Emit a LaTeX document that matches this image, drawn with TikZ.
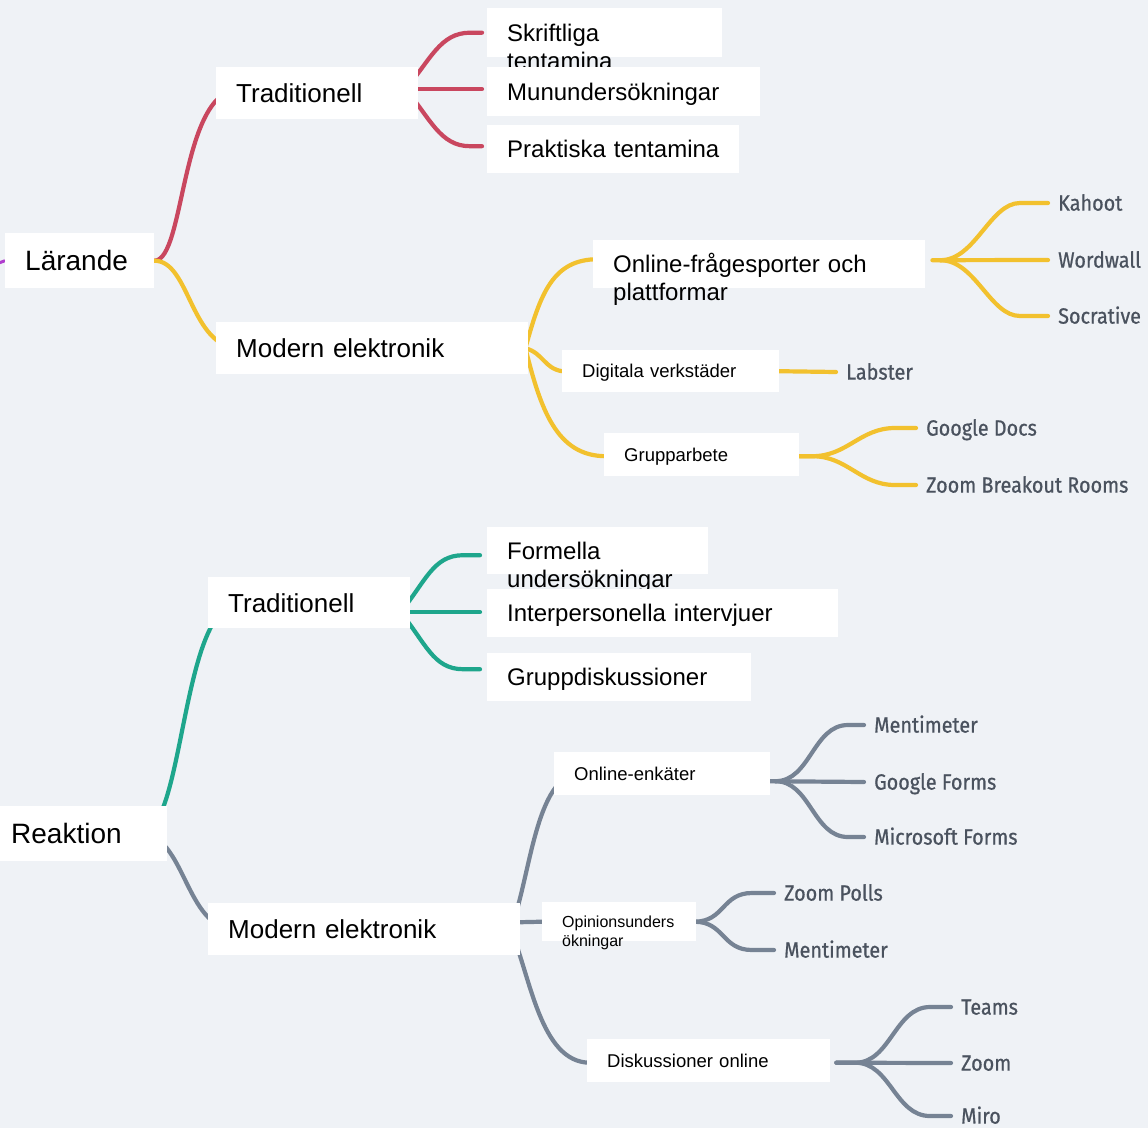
\documentclass[tikz,border=0pt]{standalone}
\usepackage{fontspec}
\setmainfont{Liberation Sans}
\newfontfamily\leaffont[FakeStretch=0.9,FakeBold=0.7]{Fira Sans}
\usetikzlibrary{calc}
\definecolor{bgc}{RGB}{239,242,246}
\definecolor{cred}{RGB}{201,71,95}
\definecolor{cyel}{RGB}{242,193,46}
\definecolor{cteal}{RGB}{30,166,140}
\definecolor{cgray}{RGB}{118,131,148}
\definecolor{cpurp}{RGB}{176,62,206}
\definecolor{leaftext}{RGB}{74,82,94}
\pgfdeclarelayer{back}
\pgfsetlayers{back,main}
\begin{document}
\begin{tikzpicture}[x=1pt,y=-1pt,
  box/.style={fill=white, anchor=north west, inner ysep=0pt, inner xsep=20pt, align=left, text depth=0pt},
  fR/.style={font={\fontsize{28}{32}\selectfont}, text height=20pt},
  fA/.style={font={\fontsize{26}{30}\selectfont}, text height=18.6pt},
  fB/.style={font={\fontsize{24}{28}\selectfont}, text height=17.2pt},
  fC/.style={font={\fontsize{18.5}{22}\selectfont}, text height=13.2pt},
  fD/.style={font={\fontsize{16}{19}\selectfont}, text height=11.5pt},
  leaf/.style={anchor=west, inner xsep=10pt, inner ysep=0pt, text height=15.2pt, text depth=0pt, font={\leaffont\fontsize{22}{26}\selectfont}, text=leaftext},
  br/.style={line width=4.2pt, line cap=round},
  ]
\useasboundingbox (0,0) rectangle (1148,1128);

% ---------- boxes ----------
\node[box,fR,text width=109pt,minimum height=55pt] (lar) at (5,233) {Lärande};
\node[box,fA,text width=162pt,minimum height=52pt] (tradA) at (216,67) {Traditionell};
\node[box,fA,text width=272pt,minimum height=52pt] (modA) at (216,322) {Modern elektronik};
\node[box,fB,text width=195pt,minimum height=49pt] (skr) at (487,8) {Skriftliga\\tentamina};
\node[box,fB,text width=233pt,minimum height=49pt] (mun) at (487,67) {Munundersökningar};
\node[box,fB,text width=212pt,minimum height=48pt] (prak) at (487,125) {\mbox{Praktiska tentamina}};
\node[box,fB,text width=292pt,minimum height=48pt] (onl) at (593,240) {Online-frågesporter och\\plattformar};
\node[box,fC,text width=177pt,minimum height=42pt] (dig) at (562,350) {Digitala verkstäder};
\node[box,fC,text width=155pt,minimum height=43pt] (grp) at (604,433) {Grupparbete};

\node[box,fR,text width=136pt,minimum height=55pt] (rea) at (-9,806) {Reaktion};
\node[box,fA,text width=162pt,minimum height=51pt] (tradB) at (208,577) {Traditionell};
\node[box,fA,text width=272pt,minimum height=52pt] (modB) at (208,903) {Modern elektronik};
\node[box,fB,text width=181pt,minimum height=47pt] (form) at (487,527) {Formella\\undersökningar};
\node[box,fB,text width=311pt,minimum height=48pt] (inter) at (487,589) {Interpersonella intervjuer};
\node[box,fB,text width=224pt,minimum height=48pt] (grd) at (487,653) {Gruppdiskussioner};
\node[box,fC,text width=176pt,minimum height=43pt] (oenk) at (554,752) {Online-enkäter};
\node[box,fD,text width=114pt,minimum height=39pt] (opin) at (542,902) {Opinionsunders\\ökningar};
\node[box,fC,text width=203pt,minimum height=43pt] (disk) at (587,1039) {Diskussioner online};

% ---------- leaves ----------
\node[leaf] (kah) at (1048,203) {Kahoot};
\node[leaf] (ww) at (1048,260) {Wordwall};
\node[leaf] (soc) at (1048,316) {Socrative};
\node[leaf] (lab) at (836,372) {Labster};
\node[leaf] (gdoc) at (916,428) {Google Docs};
\node[leaf] (zbr) at (916,485) {Zoom Breakout Rooms};
\node[leaf] (menA) at (864,725) {Mentimeter};
\node[leaf] (gf) at (864,782) {Google Forms};
\node[leaf] (msf) at (864,837) {Microsoft Forms};
\node[leaf] (zp) at (774,893) {Zoom Polls};
\node[leaf] (menB) at (774,950) {Mentimeter};
\node[leaf] (teams) at (951,1007) {Teams};
\node[leaf] (zoom) at (951,1063) {Zoom};
\node[leaf] (miro) at (951,1116) {Miro};

% ---------- connectors ----------
\begin{pgfonlayer}{back}
\fill[bgc] (0,0) rectangle (1148,1128);
\draw[line width=3pt, cpurp] ([xshift=-8pt,yshift=-3pt]lar.west) -- (lar.west);
\draw[br,cred] (lar.east) .. controls +(31,0) and +(-60,0) .. ([xshift=24pt,yshift=4pt]tradA.west);
\draw[br,cyel] (lar.east) .. controls +(36,0) and +(-50,0) .. ([xshift=24pt]modA.west);

\draw[br,cred] ([xshift=-13pt,yshift=4pt]tradA.east) .. controls +(25,-29) and +(-30,0) .. ([xshift=-17pt]skr.west) -- ([xshift=-5pt]skr.west);
\draw[br,cred] ([xshift=-13pt,yshift=4pt]tradA.east) -- ([xshift=-5pt,yshift=2.5pt]mun.west);
\draw[br,cred] ([xshift=-13pt,yshift=4pt]tradA.east) .. controls +(25,29) and +(-30,0) .. ([xshift=-17pt,yshift=3pt]prak.west) -- ([xshift=-5pt,yshift=3pt]prak.west);

\draw[br,cyel] ([xshift=-3pt]modA.east) .. controls +(15,-55) and +(-45,0) .. ([xshift=5pt,yshift=5pt]onl.west);
\draw[br,cyel] ([xshift=-3pt]modA.east) .. controls +(18,5) and +(-18,-3) .. (dig.west);
\draw[br,cyel] ([xshift=-3pt]modA.east) .. controls +(15,60) and +(-50,0) .. ([xshift=2pt,yshift=-1.5pt]grp.west);

\draw[br,cyel] ([xshift=7pt,yshift=4pt]onl.east) -- (ww.west);
\draw[br,cyel] ([xshift=15pt,yshift=4pt]onl.east) .. controls +(35,0) and +(-30,0) .. ([xshift=-28pt]kah.west) -- (kah.west);
\draw[br,cyel] ([xshift=15pt,yshift=4pt]onl.east) .. controls +(35,0) and +(-30,0) .. ([xshift=-28pt]soc.west) -- (soc.west);
\draw[br,cyel] (dig.east) -- (lab.west);
\draw[br,cyel] ([yshift=-1.5pt]grp.east) -- ([xshift=13pt,yshift=-1.5pt]grp.east) .. controls +(35,0) and +(-35,0) .. ([xshift=-21pt]gdoc.west) -- (gdoc.west);
\draw[br,cyel] ([yshift=-1.5pt]grp.east) -- ([xshift=13pt,yshift=-1.5pt]grp.east) .. controls +(35,0) and +(-35,0) .. ([xshift=-21pt]zbr.west) -- (zbr.west);

\draw[br,cteal] ([xshift=-27pt]rea.east) .. controls +(45,0) and +(-60,0) .. ([xshift=32pt,yshift=-0.5pt]tradB.west);
\draw[br,cgray] ([xshift=-27pt]rea.east) .. controls +(45,0) and +(-50,0) .. ([xshift=27pt]modB.west);

\draw[br,cteal] ([xshift=-10pt,yshift=-9.5pt]tradB.east) .. controls +(25,-30) and +(-30,0) .. ([xshift=-24pt,yshift=-4.5pt]form.west) -- ([xshift=-7pt,yshift=-4.5pt]form.west);
\draw[br,cteal] ([xshift=-10pt,yshift=-9.5pt]tradB.east) -- ([xshift=-7pt,yshift=1pt]inter.west);
\draw[br,cteal] ([xshift=-10pt,yshift=-9.5pt]tradB.east) .. controls +(25,30) and +(-30,0) .. ([xshift=-24pt,yshift=8pt]grd.west) -- ([xshift=-7pt,yshift=8pt]grd.west);

\draw[br,cgray] ([xshift=-10pt]modB.east) .. controls +(20,-49) and +(-45,0) .. ([xshift=26pt]oenk.west);
\draw[br,cgray] ([yshift=7pt]modB.east) -- (opin.west);
\draw[br,cgray] ([xshift=-10pt]modB.east) .. controls +(20,46) and +(-50,0) .. ([xshift=3pt,yshift=-2pt]disk.west);

\draw[br,cgray] ([yshift=-7.5pt]oenk.east) -- (gf.west);
\draw[br,cgray] ([xshift=5pt,yshift=-7.5pt]oenk.east) .. controls +(35,0) and +(-35,0) .. ([xshift=-16pt]menA.west) -- (menA.west);
\draw[br,cgray] ([xshift=5pt,yshift=-7.5pt]oenk.east) .. controls +(35,0) and +(-35,0) .. ([xshift=-16pt]msf.west) -- (msf.west);

\draw[br,cgray] ([xshift=-2pt]opin.east) .. controls +(30,0) and +(-30,0) .. ([xshift=-22pt]zp.west) -- (zp.west);
\draw[br,cgray] ([xshift=-2pt]opin.east) .. controls +(30,0) and +(-30,0) .. ([xshift=-22pt]menB.west) -- (menB.west);

\draw[br,cgray] ([xshift=6pt,yshift=-2pt]disk.east) -- (zoom.west);
\draw[br,cgray] ([xshift=6pt,yshift=-2pt]disk.east) -- ([xshift=25pt,yshift=-2pt]disk.east) .. controls +(35,0) and +(-35,0) .. ([xshift=-21pt]teams.west) -- (teams.west);
\draw[br,cgray] ([xshift=6pt,yshift=-2pt]disk.east) -- ([xshift=25pt,yshift=-2pt]disk.east) .. controls +(35,0) and +(-35,0) .. ([xshift=-21pt]miro.west) -- (miro.west);
\end{pgfonlayer}
\end{tikzpicture}
\end{document}
